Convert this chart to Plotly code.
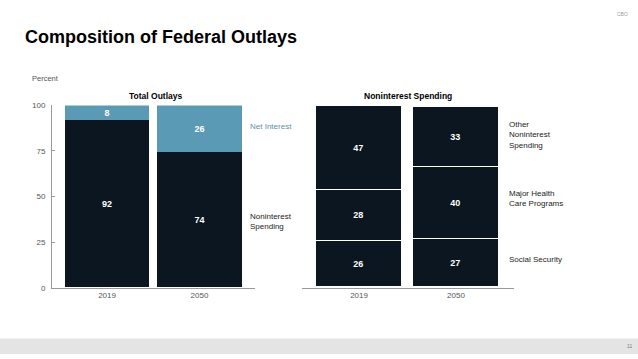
import plotly.graph_objects as go

years = ["2019", "2050"]
noninterest = [92, 74]
net_interest = [8, 26]
social_security = [26, 27]
health_care = [28, 40]
other_noninterest = [47, 33]
y_ticks = [0, 25, 50, 75, 100]

W, H = 638, 359
DARK = "#0b1620"
BLUE = "#5a9ab5"
FONT = "Liberation Sans"

def px(x):
    return x / W

def py(y):
    return 1 - y / H

fig = go.Figure()

txt = dict(color="white", size=9, family=FONT, weight="bold")

fig.add_trace(go.Bar(x=years, y=noninterest, marker_color=DARK, marker_line_width=0,
                     text=noninterest, textposition="inside", insidetextanchor="middle",
                     textangle=0, textfont=txt, width=0.91, xaxis="x", yaxis="y",
                     showlegend=False, hoverinfo="skip"))
fig.add_trace(go.Bar(x=years, y=net_interest, marker_color=BLUE, marker_line_width=0,
                     text=net_interest, textposition="inside", insidetextanchor="middle",
                     textangle=0, textfont=txt, width=0.91, xaxis="x", yaxis="y",
                     showlegend=False, hoverinfo="skip"))

for vals in (social_security, health_care, other_noninterest):
    fig.add_trace(go.Bar(x=years, y=vals, marker_color=DARK,
                         marker_line=dict(color="white", width=1.5),
                         text=vals, textposition="inside", insidetextanchor="middle",
                         textangle=0, textfont=txt, width=0.89, xaxis="x2", yaxis="y2",
                         showlegend=False, hoverinfo="skip"))

ydom = [py(291), py(104)]
axis_font = dict(family=FONT, size=8, color="#555")

fig.update_layout(
    width=W, height=H, margin=dict(l=0, r=0, t=0, b=0),
    paper_bgcolor="white", plot_bgcolor="white",
    barmode="stack", bargap=0,
    uniformtext=dict(minsize=8, mode="show"),
    xaxis=dict(domain=[px(52), px(255)], range=[-0.595, 1.6], type="category",
               showline=True, linecolor="#999", linewidth=1, ticks="",
               tickfont=axis_font, showgrid=False, fixedrange=True),
    yaxis=dict(domain=ydom, range=[0, 100], tickvals=y_ticks, showline=True,
               linecolor="#999", linewidth=1, ticks="inside", ticklen=3,
               tickcolor="#999", tickfont=axis_font, showgrid=False, zeroline=False,
               ticklabelstandoff=4, fixedrange=True),
    xaxis2=dict(domain=[px(302), px(514)], range=[-0.588, 1.598], type="category",
                anchor="y2", showline=True, linecolor="#999", linewidth=1, ticks="",
                tickfont=axis_font, showgrid=False, fixedrange=True),
    yaxis2=dict(domain=ydom, range=[0, 101.3], anchor="x2", visible=False,
                fixedrange=True),
)

# Bottom band
fig.add_shape(type="rect", xref="paper", yref="paper", x0=0, x1=1, y0=0, y1=py(343),
              fillcolor="#e4e4e4", line_width=0, layer="below")

ann = []
def add(text, x, y, size=8, color="#222", bold=False, xanchor="left", yanchor="middle", align="left"):
    ann.append(dict(text=f"<b>{text}</b>" if bold else text, x=px(x), y=py(y),
                    xref="paper", yref="paper", showarrow=False,
                    xanchor=xanchor, yanchor=yanchor, align=align,
                    font=dict(family=FONT, size=size, color=color)))

add("Composition of Federal Outlays", 23, 34, size=18, color="#000", bold=True)
add("CBO", 630, 10, size=5, color="#999", xanchor="right")
add("11", 634, 351, size=5, color="#777", xanchor="right")
add("Percent", 30, 76, size=7.5, color="#555")
add("Total Outlays", 155, 94, size=8.5, color="#000", bold=True, xanchor="center")
add("Noninterest Spending", 408, 94, size=8.5, color="#000", bold=True, xanchor="center")
add("Net Interest", 248, 126, color="#5a8fa8")
add("Noninterest<br>Spending", 248, 223)
add("Other<br>Noninterest<br>Spending", 507, 134)
add("Major Health<br>Care Programs", 507, 200)
add("Social Security", 507, 262)

fig.update_layout(annotations=ann)

fig.write_html("out.html", config={"displayModeBar": False},
               post_script="document.body.style.margin='0';document.body.style.overflow='hidden';")
